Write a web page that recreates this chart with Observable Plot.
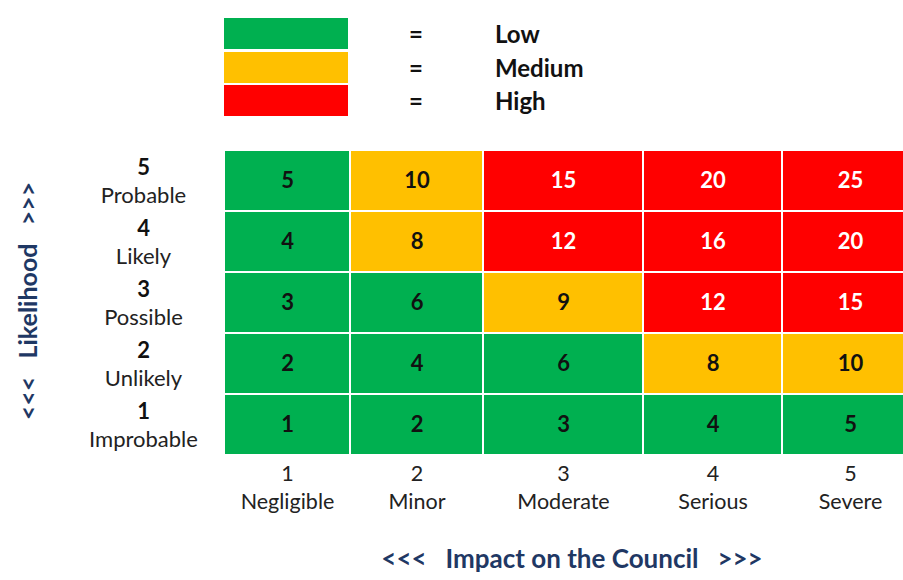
<!DOCTYPE html>
<html>
<head>
<meta charset="utf-8">
<script src="https://cdn.jsdelivr.net/npm/d3@7"></script>
<script src="https://cdn.jsdelivr.net/npm/@observablehq/plot@0.6"></script>
<style>
  html, body { margin: 0; padding: 0; background: #fff; }
  #wrap { width: 903px; height: 580px; overflow: hidden; font-family: Lato, "Open Sans", sans-serif; }
  #legend { position: relative; width: 903px; height: 130px; }
  .sw { position: absolute; left: 224px; width: 124px; height: 31px; }
  .eq, .lab { position: absolute; font-weight: bold; font-size: 24px; line-height: 33px; color: #111; }
  .eq { left: 404px; width: 24px; text-align: center; }
  .lab { left: 495px; }
  svg { display: block; }
</style>
</head>
<body>
<div id="wrap">
  <div id="legend"></div>
  <div id="chart"></div>
</div>
<script>
// ---- data ----
const impactLevels = [1, 2, 3, 4, 5];
const impactNames = ["Negligible", "Minor", "Moderate", "Serious", "Severe"];
const likelihoodLevels = [5, 4, 3, 2, 1];
const likelihoodNames = ["Probable", "Likely", "Possible", "Unlikely", "Improbable"];
// rows from top (likelihood 5) to bottom (likelihood 1), columns impact 1..5
const scores = [
  [5, 10, 15, 20, 25],
  [4, 8, 12, 16, 20],
  [3, 6, 9, 12, 15],
  [2, 4, 6, 8, 10],
  [1, 2, 3, 4, 5]
];
const ratings = [
  ["Low", "Medium", "High", "High", "High"],
  ["Low", "Medium", "High", "High", "High"],
  ["Low", "Low", "Medium", "High", "High"],
  ["Low", "Low", "Low", "Medium", "Medium"],
  ["Low", "Low", "Low", "Low", "Low"]
];
const ratingLevels = ["Low", "Medium", "High"];
const ratingColors = ["#00B050", "#FFC000", "#FF0000"];
const xTitle = "<<<\u00a0\u00a0\u00a0Impact on the Council\u00a0\u00a0\u00a0>>>";
const yTitle = "<<<\u00a0\u00a0\u00a0Likelihood\u00a0\u00a0\u00a0>>>";

// ---- layout ----
const colWidths = [126, 133, 160, 139, 136];
const edges = [0];
colWidths.forEach(w => edges.push(edges[edges.length - 1] + w));
const centerOf = i => (edges[i] + edges[i + 1]) / 2;
const navy = "#1F3864";

// ---- legend ----
const legend = document.getElementById("legend");
ratingLevels.forEach((r, i) => {
  const top = 18 + i * 33.5;
  const sw = document.createElement("div");
  sw.className = "sw"; sw.style.top = top + "px"; sw.style.background = ratingColors[i];
  legend.appendChild(sw);
  const eq = document.createElement("div");
  eq.className = "eq"; eq.style.top = (top - 1) + "px"; eq.textContent = "=";
  legend.appendChild(eq);
  const lab = document.createElement("div");
  lab.className = "lab"; lab.style.top = (top - 1) + "px"; lab.textContent = r;
  legend.appendChild(lab);
});

// ---- cells ----
const cells = [];
likelihoodLevels.forEach((l, r) => {
  impactLevels.forEach((im, c) => {
    cells.push({likelihood: l, impact: im, col: c, score: scores[r][c], rating: ratings[r][c]});
  });
});

const plot = Plot.plot({
  width: 903,
  height: 450,
  marginTop: 20,
  marginBottom: 125,
  marginLeft: 224,
  marginRight: 0,
  style: {fontFamily: "Lato, 'Open Sans', sans-serif", background: "#fff", overflow: "hidden"},
  x: {domain: [0, 679], axis: null},
  y: {domain: likelihoodLevels, axis: null, padding: 0},
  color: {domain: ratingLevels, range: ratingColors},
  marks: [
    Plot.barX(cells, {
      x1: d => edges[d.col], x2: d => edges[d.col + 1], y: "likelihood",
      fill: "rating", inset: 1, clip: true
    }),
    Plot.text(cells.filter(d => d.rating !== "High"), {
      x: d => centerOf(d.col), y: "likelihood", text: d => String(d.score),
      fill: "#111", fontWeight: "bold", fontSize: 22
    }),
    Plot.text(cells.filter(d => d.rating === "High"), {
      x: d => centerOf(d.col), y: "likelihood", text: d => String(d.score),
      fill: "#fff", fontWeight: "bold", fontSize: 22
    }),
    // y labels
    Plot.text(likelihoodLevels, {
      y: d => d, frameAnchor: "left", dx: -81, dy: -13, textAnchor: "middle",
      text: d => String(d), fontWeight: "bold", fontSize: 22, fill: "#111"
    }),
    Plot.text(likelihoodLevels, {
      y: d => d, frameAnchor: "left", dx: -81, dy: 15, textAnchor: "middle",
      text: (d, i) => likelihoodNames[i], fontSize: 22, fill: "#222"
    }),
    // x labels
    Plot.text(impactLevels, {
      x: (d, i) => centerOf(i), frameAnchor: "bottom", dy: 25,
      text: d => String(d), fontSize: 21.5, fill: "#222"
    }),
    Plot.text(impactLevels, {
      x: (d, i) => centerOf(i), frameAnchor: "bottom", dy: 53,
      text: (d, i) => impactNames[i], fontSize: 21.5, fill: "#222"
    }),
    // titles
    Plot.text([xTitle], {
      frameAnchor: "bottom", dx: 8, dy: 112, textAnchor: "middle", text: d => d,
      fontWeight: "bold", fontSize: 26, fill: navy
    }),
    Plot.text([yTitle], {
      frameAnchor: "left", dx: -196, dy: -2, textAnchor: "middle", rotate: -90, text: d => d,
      fontWeight: "bold", fontSize: 25, fill: navy
    })
  ]
});
document.getElementById("chart").appendChild(plot);
</script>
</body>
</html>
